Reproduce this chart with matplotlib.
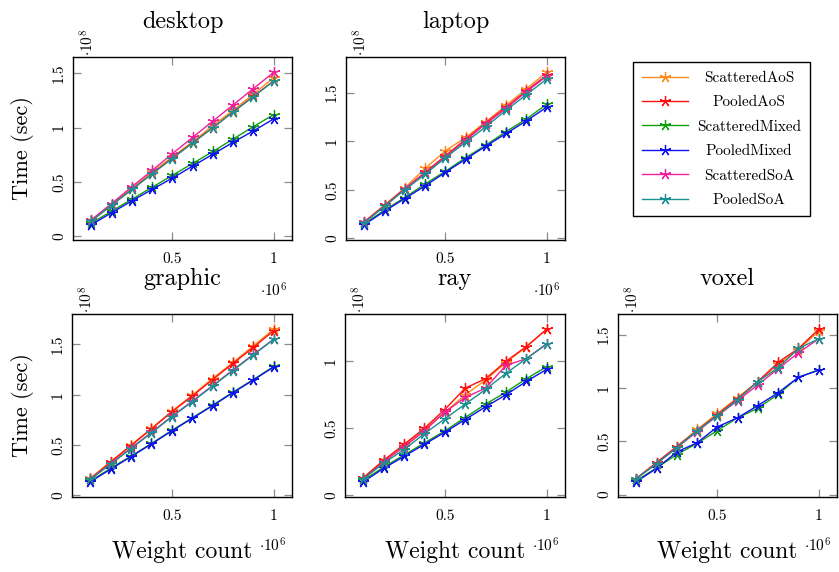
import matplotlib
matplotlib.use('Agg')
import matplotlib.pyplot as plt
from matplotlib.ticker import FixedLocator, FixedFormatter

plt.rcParams['font.family'] = ['cmr10', 'DejaVu Serif']
plt.rcParams['mathtext.fontset'] = 'cm'
plt.rcParams['axes.unicode_minus'] = False

# ---------------- data ----------------
# weight count in units of 10^6, time in units of 10^8 sec
weights = [0.1, 0.2, 0.3, 0.4, 0.5, 0.6, 0.7, 0.8, 0.9, 1.0]
series_names = ['ScatteredAoS', 'PooledAoS', 'ScatteredMixed', 'PooledMixed', 'ScatteredSoA', 'PooledSoA']
series_colors = ['#FF8C1A', '#FF1010', '#10A010', '#1010F0', '#F0209A', '#1A9090']
panel_titles = ['desktop', 'laptop', 'graphic', 'ray', 'voxel']
x_ticks = [0.5, 1.0]
x_tick_labels = ['0.5', '1']
y_ticks = [0.0, 0.5, 1.0, 1.5]
y_tick_labels = ['0', '0.5', '1', '1.5']

desktop_scattered_aos = [0.145, 0.29, 0.44, 0.59, 0.73, 0.87, 1.02, 1.16, 1.31, 1.46]
desktop_pooled_aos = [0.14, 0.285, 0.43, 0.575, 0.72, 0.86, 1.00, 1.145, 1.29, 1.43]
desktop_scattered_mixed = [0.12, 0.23, 0.34, 0.45, 0.56, 0.67, 0.78, 0.895, 1.01, 1.12]
desktop_pooled_mixed = [0.105, 0.215, 0.325, 0.43, 0.535, 0.645, 0.755, 0.865, 0.97, 1.08]
desktop_scattered_soa = [0.15, 0.30, 0.455, 0.605, 0.76, 0.91, 1.06, 1.21, 1.36, 1.51]
desktop_pooled_soa = [0.14, 0.285, 0.43, 0.575, 0.715, 0.86, 1.00, 1.145, 1.285, 1.43]

laptop_scattered_aos = [0.17, 0.34, 0.52, 0.72, 0.90, 1.04, 1.20, 1.37, 1.54, 1.71]
laptop_pooled_aos = [0.17, 0.34, 0.51, 0.68, 0.85, 1.02, 1.19, 1.35, 1.52, 1.68]
laptop_scattered_mixed = [0.15, 0.29, 0.42, 0.56, 0.69, 0.83, 0.96, 1.10, 1.23, 1.38]
laptop_pooled_mixed = [0.14, 0.28, 0.41, 0.54, 0.68, 0.815, 0.95, 1.08, 1.21, 1.35]
laptop_scattered_soa = [0.17, 0.33, 0.51, 0.67, 0.84, 1.01, 1.18, 1.34, 1.51, 1.67]
laptop_pooled_soa = [0.16, 0.33, 0.50, 0.66, 0.83, 0.99, 1.15, 1.32, 1.48, 1.64]

graphic_scattered_aos = [0.17, 0.335, 0.50, 0.665, 0.835, 0.995, 1.16, 1.32, 1.485, 1.65]
graphic_pooled_aos = [0.165, 0.33, 0.495, 0.66, 0.83, 0.985, 1.15, 1.31, 1.47, 1.635]
graphic_scattered_mixed = [0.14, 0.27, 0.39, 0.515, 0.645, 0.77, 0.895, 1.025, 1.15, 1.28]
graphic_pooled_mixed = [0.135, 0.26, 0.385, 0.51, 0.64, 0.765, 0.89, 1.02, 1.145, 1.275]
graphic_scattered_soa = [0.16, 0.315, 0.47, 0.625, 0.785, 0.935, 1.09, 1.245, 1.40, 1.55]
graphic_pooled_soa = [0.16, 0.31, 0.465, 0.62, 0.78, 0.93, 1.085, 1.24, 1.395, 1.55]

ray_scattered_aos = [0.13, 0.26, 0.37, 0.49, 0.62, 0.75, 0.86, 0.99, 1.11, 1.24]
ray_pooled_aos = [0.13, 0.26, 0.38, 0.50, 0.64, 0.80, 0.87, 1.00, 1.11, 1.24]
ray_scattered_mixed = [0.11, 0.21, 0.30, 0.39, 0.48, 0.58, 0.68, 0.77, 0.87, 0.96]
ray_pooled_mixed = [0.10, 0.20, 0.29, 0.38, 0.47, 0.565, 0.66, 0.75, 0.85, 0.94]
ray_scattered_soa = [0.12, 0.25, 0.36, 0.48, 0.62, 0.73, 0.80, 0.97, 1.02, 1.13]
ray_pooled_soa = [0.12, 0.24, 0.34, 0.46, 0.57, 0.68, 0.79, 0.91, 1.02, 1.13]

voxel_scattered_aos = [0.15, 0.30, 0.45, 0.61, 0.76, 0.91, 1.06, 1.22, 1.36, 1.53]
voxel_pooled_aos = [0.15, 0.30, 0.45, 0.60, 0.75, 0.90, 1.06, 1.24, 1.37, 1.55]
voxel_scattered_mixed = [0.13, 0.25, 0.375, 0.48, 0.60, 0.72, 0.81, 0.94, 1.10, 1.17]
voxel_pooled_mixed = [0.12, 0.245, 0.40, 0.485, 0.635, 0.72, 0.835, 0.955, 1.10, 1.165]
voxel_scattered_soa = [0.15, 0.29, 0.44, 0.59, 0.74, 0.88, 1.03, 1.18, 1.33, 1.46]
voxel_pooled_soa = [0.15, 0.29, 0.44, 0.60, 0.74, 0.89, 1.06, 1.19, 1.37, 1.46]

panels = [
    [desktop_scattered_aos, desktop_pooled_aos, desktop_scattered_mixed,
     desktop_pooled_mixed, desktop_scattered_soa, desktop_pooled_soa],
    [laptop_scattered_aos, laptop_pooled_aos, laptop_scattered_mixed,
     laptop_pooled_mixed, laptop_scattered_soa, laptop_pooled_soa],
    [graphic_scattered_aos, graphic_pooled_aos, graphic_scattered_mixed,
     graphic_pooled_mixed, graphic_scattered_soa, graphic_pooled_soa],
    [ray_scattered_aos, ray_pooled_aos, ray_scattered_mixed,
     ray_pooled_mixed, ray_scattered_soa, ray_pooled_soa],
    [voxel_scattered_aos, voxel_pooled_aos, voxel_scattered_mixed,
     voxel_pooled_mixed, voxel_scattered_soa, voxel_pooled_soa],
]

# ---------------- layout ----------------
W, H = 839, 572
fig = plt.figure(figsize=(W / 100, H / 100), dpi=100)

# axes boxes in pixels: (left, top, right, bottom)
boxes = [(73, 57, 292, 240), (346, 57, 565, 240),
         (72, 314, 292, 497), (345, 314, 565, 497), (618, 314, 837, 497)]

star = (5, 2, 0)
handles = []
for i, (box, title, data) in enumerate(zip(boxes, panel_titles, panels)):
    l, t, r, b = box
    ax = fig.add_axes([l / W, 1 - b / H, (r - l) / W, (b - t) / H])
    for name, color, vals in zip(series_names, series_colors, data):
        ln, = ax.plot(weights, vals, color=color, lw=1.0, marker=star,
                      ms=8, mew=0.9, label=name)
        if i == 0:
            handles.append(ln)
    ax.margins(x=0.1, y=0.1)
    ax.xaxis.set_major_locator(FixedLocator(x_ticks))
    ax.xaxis.set_major_formatter(FixedFormatter(x_tick_labels))
    ax.yaxis.set_major_locator(FixedLocator(y_ticks))
    ax.yaxis.set_major_formatter(FixedFormatter(y_tick_labels))
    ax.tick_params(direction='in', top=True, right=True, length=6,
                   width=0.9, color='0.55', labelsize=11)
    ax.tick_params(axis='x', pad=9)
    ax.tick_params(axis='y', pad=5, labelrotation=90)
    for lab in ax.get_yticklabels():
        lab.set_va('center')
    for sp in ax.spines.values():
        sp.set_linewidth(1.0)
        sp.set_color('black')
    ax.set_title(title, fontsize=17.5, pad=21)
    ax.text(0.068, 1.005, r'$\cdot 10^8$', transform=ax.transAxes,
            rotation=90, ha='center', va='bottom', fontsize=11)
    # x scale label
    if b < 300:
        fig.text((r - 18) / W, 1 - 297 / H, r'$\cdot 10^6$', ha='center',
                 va='baseline', fontsize=11)
    else:
        cx = (l + r) / 2
        fig.text(cx / W, 1 - 558 / H, 'Weight count', ha='center',
                 va='baseline', fontsize=17)
        fig.text((r - 19) / W, 1 - 552 / H, r'$\cdot 10^6$', ha='center',
                 va='baseline', fontsize=11)

fig.text(22 / W, 1 - 148.5 / H, 'Time (sec)', rotation=90, ha='center',
         va='center', fontsize=16)
fig.text(22 / W, 1 - 405.5 / H, 'Time (sec)', rotation=90, ha='center',
         va='center', fontsize=16)

leg = fig.legend(handles, series_names, loc='upper left',
                 bbox_to_anchor=(633 / W, 1 - 62 / H), frameon=True,
                 fancybox=False, edgecolor='black', framealpha=1,
                 fontsize=11, handlelength=3.0, borderpad=0.6,
                 labelspacing=0.7, handletextpad=0.6, borderaxespad=0)
leg.get_frame().set_linewidth(1.0)

# centre the legend labels within their column (as in the reference)
renderer = fig.canvas.get_renderer()
texts = leg.get_texts()
widths = [t.get_window_extent(renderer).width for t in texts]
maxw = max(widths)
for t, w in zip(texts, widths):
    t.set_x((maxw - w) / 2)

fig.savefig('out.png', dpi=100)
